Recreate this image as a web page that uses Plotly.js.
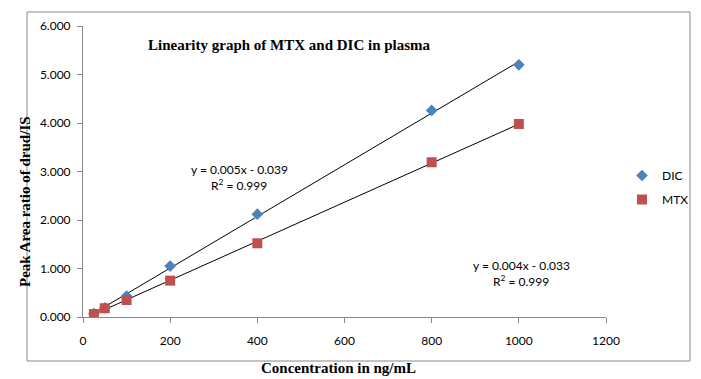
<!DOCTYPE html>
<html>
<head>
<meta charset="utf-8">
<script src="https://cdn.plot.ly/plotly-3.0.1.min.js"></script>
<style>html,body{margin:0;padding:0;background:#fff;}#chart{width:701px;height:379px;}</style>
</head>
<body>
<div id="chart"></div>
<script>
var dicConc = [25, 50, 100, 200, 400, 800, 1000];
var dicRatio = [0.07, 0.19, 0.43, 1.05, 2.12, 4.26, 5.20];
var mtxConc = [25, 50, 100, 200, 400, 800, 1000];
var mtxRatio = [0.06, 0.18, 0.35, 0.75, 1.52, 3.19, 3.98];
var dicEquation = ["y = 0.005x - 0.039", "R<sup>2</sup> = 0.999"];
var mtxEquation = ["y = 0.004x - 0.033", "R<sup>2</sup> = 0.999"];
var xTicks = [0, 200, 400, 600, 800, 1000, 1200];
var yTicks = [0, 1, 2, 3, 4, 5, 6];

function fit(xs, ys) {
  var n = xs.length, sx = 0, sy = 0, sxx = 0, sxy = 0;
  for (var i = 0; i < n; i++) { sx += xs[i]; sy += ys[i]; sxx += xs[i]*xs[i]; sxy += xs[i]*ys[i]; }
  var m = (n*sxy - sx*sy) / (n*sxx - sx*sx);
  var b = (sy - m*sx) / n;
  var x0 = Math.min.apply(null, xs), x1 = Math.max.apply(null, xs);
  return {x: [x0, x1], y: [m*x0 + b, m*x1 + b]};
}
var dFit = fit(dicConc, dicRatio), mFit = fit(mtxConc, mtxRatio);

var tickFont = {family: "Lato, 'Open Sans', sans-serif", size: 12, color: "#000"};
var serifBold = "'Liberation Serif', 'Times New Roman', serif";

var traces = [
  {x: dFit.x, y: dFit.y, mode: "lines", line: {color: "#000", width: 1}, showlegend: false, hoverinfo: "skip"},
  {x: mFit.x, y: mFit.y, mode: "lines", line: {color: "#000", width: 1}, showlegend: false, hoverinfo: "skip"},
  {x: dicConc, y: dicRatio, mode: "markers", name: "DIC", legendgroup: "dic", marker: {symbol: "diamond", size: 9, color: "#4F81BD"}},
  {x: mtxConc, y: mtxRatio, mode: "markers", name: "MTX", legendgroup: "mtx", marker: {symbol: "square", size: 10, color: "#C0504D"}}
];
var W = 523, H = 291;
function px(xp) { return (xp - 83) / W; }
function py(yp) { return (317 - yp) / H; }

var layout = {
  width: 701, height: 379,
  margin: {l: 83, r: 95, t: 26, b: 62, autoexpand: false},
  paper_bgcolor: "#fff", plot_bgcolor: "#fff",
  showlegend: true,
  legend: {x: px(622), y: py(161), xanchor: "left", yanchor: "top", font: tickFont, bgcolor: "rgba(0,0,0,0)", tracegroupgap: 5, itemwidth: 30},
  xaxis: {range: [0, 1200], tickvals: xTicks, ticktext: xTicks.map(String), showgrid: false, zeroline: false,
          showline: true, linecolor: "#888", linewidth: 1, ticks: "outside", ticklen: 5, tickcolor: "#888",
          tickfont: tickFont, ticklabelstandoff: 8, fixedrange: true},
  yaxis: {range: [0, 6], tickvals: yTicks, ticktext: yTicks.map(function(v){return v.toFixed(3);}), showgrid: false, zeroline: false,
          showline: true, linecolor: "#888", linewidth: 1, ticks: "outside", ticklen: 5, tickcolor: "#888",
          tickfont: tickFont, ticklabelstandoff: 4, fixedrange: true},
  shapes: [
    {type: "rect", xref: "paper", yref: "paper", x0: px(27), x1: px(690), y0: py(361), y1: py(12),
     line: {color: "#888", width: 1}, layer: "below"}
  ],
  annotations: [
    {xref: "paper", yref: "paper", x: px(289), y: py(45), xanchor: "center", yanchor: "middle", text: "<b>Linearity graph of MTX and DIC in plasma</b>", showarrow: false,
     font: {family: serifBold, size: 15, color: "#000"}},
    {xref: "paper", yref: "paper", x: px(338), y: py(368), xanchor: "center", yanchor: "middle", text: "<b>Concentration in ng/mL</b>", showarrow: false,
     font: {family: serifBold, size: 15, color: "#000"}},
    {xref: "paper", yref: "paper", x: px(25), y: py(202), xanchor: "center", yanchor: "middle", text: "<b>Peak Area ratio of drud/IS</b>", showarrow: false, textangle: -90,
     font: {family: serifBold, size: 15, color: "#000"}},
    {xref: "paper", yref: "paper", x: px(239), y: py(169), xanchor: "center", yanchor: "middle", text: dicEquation[0], showarrow: false, font: tickFont},
    {xref: "paper", yref: "paper", x: px(239), y: py(185), xanchor: "center", yanchor: "middle", text: dicEquation[1], showarrow: false, font: tickFont},
    {xref: "paper", yref: "paper", x: px(521), y: py(265), xanchor: "center", yanchor: "middle", text: mtxEquation[0], showarrow: false, font: tickFont},
    {xref: "paper", yref: "paper", x: px(521), y: py(281), xanchor: "center", yanchor: "middle", text: mtxEquation[1], showarrow: false, font: tickFont}
  ]
};
Plotly.newPlot("chart", traces, layout, {displayModeBar: false, staticPlot: true});
</script>
</body>
</html>
